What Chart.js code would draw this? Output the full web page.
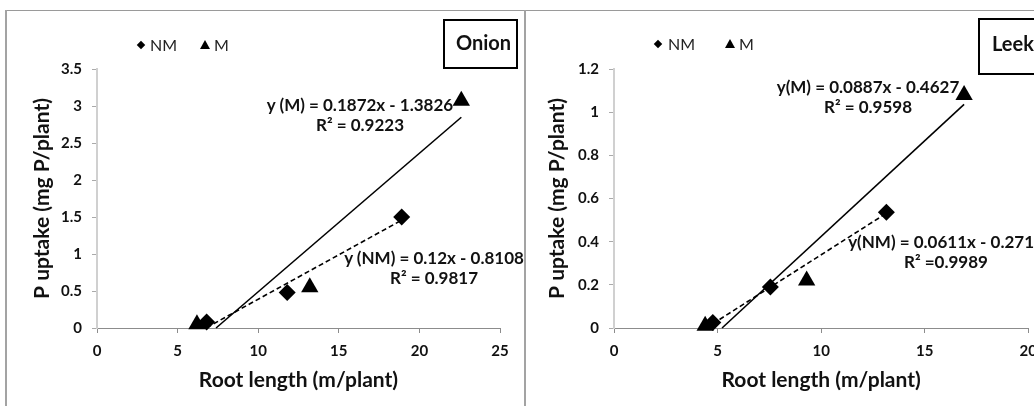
<!DOCTYPE html>
<html><head><meta charset="utf-8">
<script src="https://cdn.jsdelivr.net/npm/chart.js@4/dist/chart.umd.min.js"></script>
<style>
html,body{margin:0;padding:0;width:1034px;height:406px;overflow:hidden;background:#fff;position:relative;font-family:Lato,sans-serif}
.hline{position:absolute;left:5px;top:10px;width:1029px;height:1px;background:#9a9a9a}
.vline{position:absolute;top:10px;width:2px;height:396px;background:#a3a3a3}
.cw{position:absolute;top:11px;height:395px}
canvas{display:block}
.eq{position:absolute;font:bold 17px Lato;color:#111;text-align:center;white-space:nowrap;line-height:20px;transform:translateX(-50%)}
.box{position:absolute;border:2px solid #000;box-sizing:border-box;font:bold 20px Lato;color:#111;white-space:nowrap;overflow:hidden}
.leg{position:absolute;font:16px Lato;color:#222;white-space:nowrap;line-height:16px}
.dia{position:absolute;width:6px;height:6px;background:#000;transform:rotate(45deg)}
.tri{position:absolute;width:0;height:0;border-left:5px solid transparent;border-right:5px solid transparent;border-bottom:9px solid #000}
</style></head>
<body>
<div class="hline"></div>
<div class="vline" style="left:5px"></div>
<div class="vline" style="left:524px"></div>
<div class="cw" style="left:7px;width:513px"><canvas id="onion" width="513" height="395"></canvas></div>
<div class="cw" style="left:526px;width:520px"><canvas id="leek" width="520" height="395"></canvas></div>

<div class="dia" style="left:138px;top:42px"></div><div class="leg" style="left:150px;top:37px">NM</div>
<div class="tri" style="left:200px;top:40px"></div><div class="leg" style="left:214px;top:37px">M</div>
<div class="dia" style="left:655px;top:41px"></div><div class="leg" style="left:668px;top:36px">NM</div>
<div class="tri" style="left:725px;top:39px"></div><div class="leg" style="left:739px;top:36px">M</div>

<div class="box" style="left:443px;top:19px;width:75px;height:50px;padding:9px 0 0 11px">Onion</div>
<div class="box" style="left:978px;top:18px;width:80px;height:57px;padding:11px 0 0 12px">Leek</div>

<div class="eq" style="left:360px;top:95px">y (M) = 0.1872x - 1.3826<br>R² = 0.9223</div>
<div class="eq" style="left:434px;top:248px">y (NM) = 0.12x - 0.8108<br>R² = 0.9817</div>
<div class="eq" style="left:868px;top:77px">y(M) = 0.0887x - 0.4627<br>R² = 0.9598</div>
<div class="eq" style="left:946px;top:232px">y(NM) = 0.0611x - 0.2718<br>R² =0.9989</div>

<script>
// ---- data ----
const onionNM_x = [6.8, 11.8, 18.9];
const onionNM_y = [0.08, 0.48, 1.50];
const onionM_x  = [6.2, 13.2, 22.6];
const onionM_y  = [0.05, 0.55, 3.07];
const leekNM_x  = [4.77, 7.55, 13.15];
const leekNM_y  = [0.025, 0.19, 0.536];
const leekM_x   = [4.4, 9.3, 16.9];
const leekM_y   = [0.01, 0.22, 1.08];
// trendline coefficients [slope, intercept] as printed in the chart
const onionFitNM = [0.12, -0.8108];
const onionFitM  = [0.1872, -1.3826];
const leekFitNM  = [0.0611, -0.2718];
const leekFitM   = [0.0887, -0.4627];
// axis ranges [min, max, step]
const onionXRange = [0, 25, 5];
const onionYRange = [0, 3.5, 0.5];
const leekXRange  = [0, 20, 5];
const leekYRange  = [0, 1.2, 0.2];
const seriesNames = ['NM', 'M'];
const xTitle = 'Root length (m/plant)';
const yTitle = 'P uptake (mg P/plant)';

function pts(xs, ys){ return xs.map((x,i)=>({x:x, y:ys[i]})); }
function fitLine(xs, c){
  const x0 = Math.max(Math.min(...xs), -c[1]/c[0]);
  const x1 = Math.max(...xs);
  return [{x:x0, y:c[0]*x0+c[1]}, {x:x1, y:c[0]*x1+c[1]}];
}
const tickFont = {family:'Lato', size:15, weight:'bold'};
const titleFont = {family:'Lato', size:21, weight:'bold'};

function makeChart(id, nx, ny, mx, my, fNM, fM, xr, yr, geo){
  new Chart(document.getElementById(id), {
    type:'scatter',
    data:{datasets:[
      {label:seriesNames[0], data:pts(nx,ny), pointStyle:'rectRot', pointRadius:8.5, pointHoverRadius:8.5,
       backgroundColor:'#000', borderColor:'#000', borderWidth:0, clip:false},
      {label:seriesNames[1], data:pts(mx,my), pointStyle:'triangle', pointRadius:10, pointHoverRadius:10,
       backgroundColor:'#000', borderColor:'#000', borderWidth:0, clip:false},
      {label:'fit M', data:fitLine(mx,fM), showLine:true, pointRadius:0, borderColor:'#000', borderWidth:1.6, clip:false},
      {label:'fit NM', data:fitLine(nx,fNM), showLine:true, pointRadius:0, borderColor:'#000', borderWidth:1.6, borderDash:[5,3], clip:false}
    ]},
    options:{
      responsive:false, animation:false, devicePixelRatio:1,
      layout:{padding:{left:0, right:geo.padR, top:58, bottom:0}},
      plugins:{legend:{display:false}, tooltip:{enabled:false}},
      scales:{
        x:{type:'linear', min:xr[0], max:xr[1],
           ticks:{stepSize:xr[2], font:tickFont, color:'#111', padding:9, maxRotation:0},
           grid:{drawOnChartArea:false, tickLength:5, color:'#8c8c8c'},
           border:{color:'#8c8c8c', width:1},
           title:{display:true, text:xTitle, font:titleFont, color:'#111', padding:{top:0, bottom:13}},
           afterFit(s){ s.height = 78; }},
        y:{type:'linear', min:yr[0], max:yr[1],
           ticks:{stepSize:yr[2], font:tickFont, color:'#111', padding:10,
                  callback:v=>String(+(+v).toFixed(2))},
           grid:{drawOnChartArea:false, tickLength:5, color:'#aaaaaa'},
           border:{color:'#d0d0d0', width:2},
           title:{display:true, text:yTitle, font:titleFont, color:'#111', padding:{top:geo.titlePad, bottom:0}},
           afterFit(s){ s.width = geo.yW; }}
      }
    }
  });
}
makeChart('onion', onionNM_x, onionNM_y, onionM_x, onionM_y, onionFitNM, onionFitM, onionXRange, onionYRange,
          {padR:20, yW:90, titlePad:23});
makeChart('leek', leekNM_x, leekNM_y, leekM_x, leekM_y, leekFitNM, leekFitM, leekXRange, leekYRange,
          {padR:16, yW:88, titlePad:19});
</script>
</body></html>
